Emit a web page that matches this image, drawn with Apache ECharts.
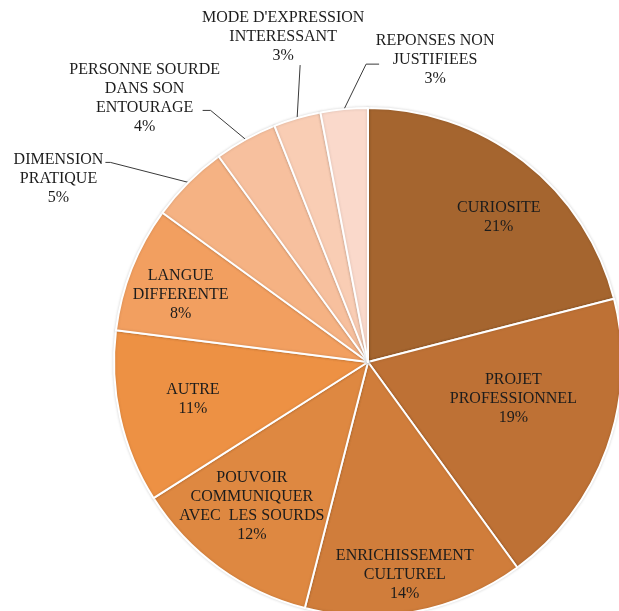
<!DOCTYPE html>
<html>
<head>
<meta charset="utf-8">
<script src="https://cdn.jsdelivr.net/npm/echarts@6/dist/echarts.min.js"></script>
<style>
html,body{margin:0;padding:0;background:#fff;overflow:hidden;}
#chart{width:619px;height:611px;}
</style>
</head>
<body>
<div id="chart"></div>
<script>
const categories = [
  "CURIOSITE",
  "PROJET\nPROFESSIONNEL",
  "ENRICHISSEMENT\nCULTUREL",
  "POUVOIR\nCOMMUNIQUER\nAVEC  LES SOURDS",
  "AUTRE",
  "LANGUE\nDIFFERENTE",
  "DIMENSION\nPRATIQUE",
  "PERSONNE SOURDE\nDANS SON\nENTOURAGE",
  "MODE D'EXPRESSION\nINTERESSANT",
  "REPONSES NON\nJUSTIFIEES"
];
const percentages = [21, 19, 14, 12, 11, 8, 5, 4, 3, 3];
const palette = ["#A5652F", "#BE7135", "#D07D3B", "#DE8841", "#ED9144", "#F29F60", "#F5B283", "#F7C09E", "#F9CDB4", "#FAD9CB"];

const outsideIdx = [6, 7, 8, 9];

const CX = 368, CY = 362, R = 254, LH = 19;
const fontBase = { fontFamily: "Liberation Serif", fontSize: 16, color: "#1c1c1c", lineHeight: LH, overflow: "none" };

const mainData = categories.map((name, i) => ({
  name: name,
  value: percentages[i],
  itemStyle: { color: palette[i] },
  label: outsideIdx.includes(i)
    ? Object.assign({ show: true, position: "outside" }, fontBase)
    : { show: false },
  labelLine: { show: outsideIdx.includes(i) }
}));

const labelData = categories.map((name, i) => ({
  name: name,
  value: percentages[i],
  label: !outsideIdx.includes(i)
    ? Object.assign({ show: true, position: "inside" }, fontBase)
    : { show: false }
}));

// inside label placement: [distance from centre, angular shift in degrees]
const insidePlacement = {
  0: [195, 4.3],
  1: [150, -5.5],
  2: [216, 1],
  3: [185, 2.9],
  4: [179, 0.5],
  5: [199, -1.9]
};

function layoutInside(params) {
  const pl = insidePlacement[params.dataIndex];
  if (!pl) return {};
  const r = params.labelRect;
  const mx = r.x + r.width / 2, my = r.y + r.height / 2;
  const a = Math.atan2(mx - CX, -(my - CY)) + pl[1] * Math.PI / 180;
  return {
    x: CX + pl[0] * Math.sin(a),
    y: CY - pl[0] * Math.cos(a),
    align: "center",
    verticalAlign: "middle"
  };
}

// leader lines of the small slices: first segment offset, then horizontal run
const leaderSpec = {
  6: [-78, -20, -5],
  7: [-35, -29, -8],
  8: [3, -53, 0],
  9: [22, -45, 13]
};

function layoutOutside(params) {
  const spec = leaderSpec[params.dataIndex];
  if (!spec || !params.labelLinePoints) return {};
  const p0 = params.labelLinePoints[0];
  const p1 = [p0[0] + spec[0], p0[1] + spec[1]];
  const p2 = [p1[0] + spec[2], p1[1]];
  const w = params.labelRect.width;
  let x, y;
  switch (params.dataIndex) {
    case 6: x = p2[0] - 2 - w / 2; y = p2[1] - LH / 2 - 3; break;
    case 7: x = p2[0] - 58; y = p2[1] - 50; break;
    case 8: x = p1[0] - 17; y = p1[1] - 56.5; break;
    case 9: x = p2[0] + 56; y = p2[1] - 32.5; break;
  }
  return { x: x, y: y, align: "center", verticalAlign: "top", labelLinePoints: [p0, p1, p2] };
}

const chart = echarts.init(document.getElementById("chart"));
chart.setOption({
  backgroundColor: "#fff",
  animation: false,
  series: [
    {
      type: "pie",
      center: [CX, CY],
      radius: [0, R],
      startAngle: 90,
      clockwise: true,
      data: mainData,
      label: { formatter: "{b}\n{c}%" },
      labelLine: { length: 12, length2: 18, lineStyle: { color: "#3a3a3a", width: 1 } },
      labelLayout: layoutOutside,
      itemStyle: { borderColor: "#fff", borderWidth: 2, shadowBlur: 3, shadowColor: "rgba(0,0,0,0.15)" },
      emphasis: { disabled: true }
    },
    {
      type: "pie",
      silent: true,
      center: [CX, CY],
      radius: [122, R],
      startAngle: 90,
      clockwise: true,
      data: labelData,
      label: { formatter: "{b}\n{c}%" },
      labelLine: { show: false },
      labelLayout: layoutInside,
      itemStyle: { color: "rgba(0,0,0,0)" },
      emphasis: { disabled: true }
    }
  ]
});
</script>
</body>
</html>
